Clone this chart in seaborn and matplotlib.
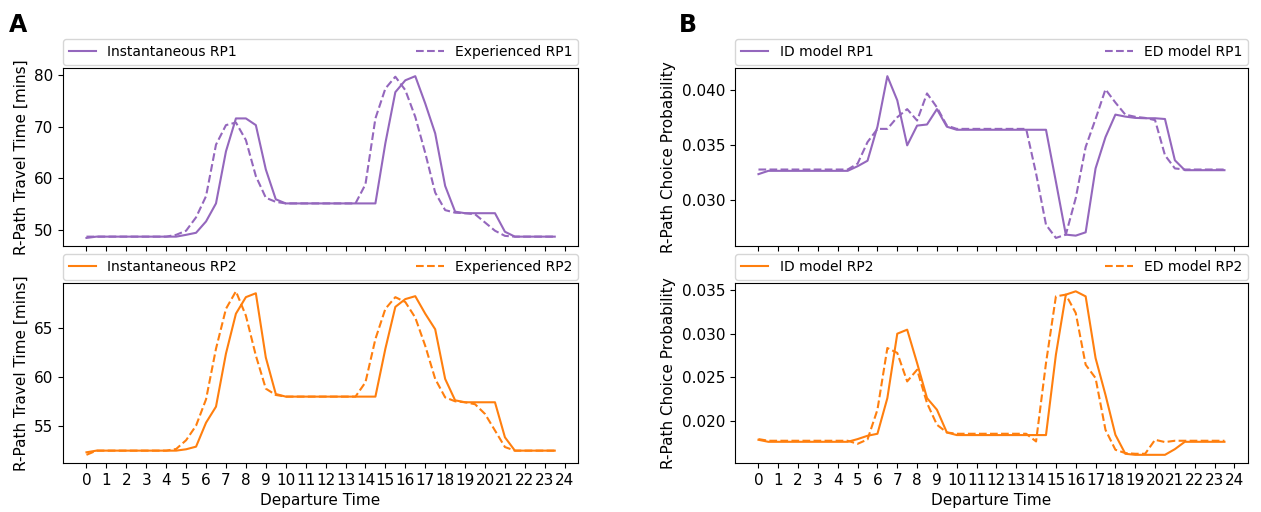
import numpy as np
import pandas as pd
import matplotlib
matplotlib.use("Agg")
import matplotlib.pyplot as plt
import seaborn as sns

# Departure times (half-hour steps)
departure_time = [i * 0.5 for i in range(48)]
hour_ticks = list(range(25))

# Panel A: R-Path travel time [mins]
inst_rp1 = [48.4, 48.65, 48.65, 48.65, 48.65, 48.65, 48.65, 48.65, 48.65, 48.65,
            49.0, 49.4, 51.6, 55.1, 65.2, 71.6, 71.6, 70.3, 61.7, 55.9,
            55.1, 55.1, 55.1, 55.1, 55.1, 55.1, 55.1, 55.1, 55.1, 55.1,
            66.8, 76.7, 79.0, 79.8, 74.5, 68.7, 58.5, 53.5, 53.2, 53.2,
            53.2, 53.2, 49.6, 48.65, 48.65, 48.65, 48.65, 48.65]
exp_rp1 = [48.65, 48.65, 48.65, 48.65, 48.65, 48.65, 48.65, 48.65, 48.65, 49.0,
           49.8, 52.4, 56.5, 66.5, 70.3, 70.8, 67.4, 60.4, 56.2, 55.4,
           55.1, 55.1, 55.1, 55.1, 55.1, 55.1, 55.1, 55.1, 58.8, 71.6,
           77.4, 79.7, 77.1, 71.9, 64.9, 57.2, 53.8, 53.3, 53.2, 53.0,
           51.4, 49.8, 48.8, 48.65, 48.65, 48.65, 48.65, 48.65]
inst_rp2 = [52.26, 52.43, 52.43, 52.43, 52.43, 52.43, 52.43, 52.43, 52.43, 52.43,
            52.57, 52.84, 55.3, 56.95, 62.4, 66.5, 68.2, 68.6, 62.0, 58.25,
            57.98, 57.98, 57.98, 57.98, 57.98, 57.98, 57.98, 57.98, 57.98, 57.98,
            62.9, 67.2, 68.0, 68.3, 66.5, 64.9, 59.8, 57.6, 57.4, 57.4,
            57.4, 57.4, 53.8, 52.43, 52.43, 52.43, 52.43, 52.43]
exp_rp2 = [52.0, 52.43, 52.43, 52.43, 52.43, 52.43, 52.43, 52.43, 52.43, 52.6,
           53.5, 55.0, 57.7, 62.9, 67.0, 68.8, 66.3, 62.2, 58.8, 58.15,
           57.98, 57.98, 57.98, 57.98, 57.98, 57.98, 57.98, 57.98, 59.45, 63.9,
           67.0, 68.2, 67.7, 66.1, 63.2, 59.8, 57.9, 57.5, 57.4, 57.2,
           56.2, 54.5, 52.8, 52.43, 52.43, 52.43, 52.43, 52.43]

# Panel B: R-Path choice probability
id_rp1 = [0.03238, 0.03268, 0.03268, 0.03268, 0.03268, 0.03268, 0.03268, 0.03268, 0.03268, 0.03268,
          0.0331, 0.0336, 0.0367, 0.0413, 0.0391, 0.0350, 0.0368, 0.0369, 0.0383, 0.0367,
          0.03642, 0.03642, 0.03642, 0.03642, 0.03642, 0.03642, 0.03642, 0.03642, 0.03642, 0.03642,
          0.03169, 0.02687, 0.02678, 0.02708, 0.0329, 0.03575, 0.0378, 0.03762, 0.0375, 0.03747,
          0.03747, 0.0374, 0.03364, 0.03274, 0.03274, 0.03274, 0.03274, 0.03274]
ed_rp1 = [0.0328, 0.0328, 0.0328, 0.0328, 0.0328, 0.0328, 0.0328, 0.0328, 0.0328, 0.0328,
          0.03334, 0.0353, 0.0365, 0.0365, 0.03756, 0.0383, 0.03726, 0.03973, 0.03846, 0.0368,
          0.0365, 0.0365, 0.0365, 0.0365, 0.0365, 0.0365, 0.0365, 0.0365, 0.03244, 0.02777,
          0.02657, 0.02687, 0.0302, 0.03485, 0.0374, 0.0401, 0.0389, 0.0378, 0.0376, 0.0375,
          0.0373, 0.0341, 0.0329, 0.0328, 0.0328, 0.0328, 0.0328, 0.0328]
id_rp2 = [0.01786, 0.01763, 0.01763, 0.01763, 0.01763, 0.01763, 0.01763, 0.01763, 0.01763, 0.01763,
          0.01794, 0.01832, 0.01855, 0.02263, 0.0300, 0.03046, 0.02664, 0.02263, 0.0213, 0.0187,
          0.0184, 0.0184, 0.0184, 0.0184, 0.0184, 0.0184, 0.0184, 0.0184, 0.0184, 0.0184,
          0.0276, 0.03447, 0.03485, 0.03427, 0.02721, 0.0230, 0.01843, 0.01626, 0.01614, 0.01614,
          0.01614, 0.01614, 0.01679, 0.01763, 0.01763, 0.01763, 0.01763, 0.01763]
ed_rp2 = [0.01794, 0.01775, 0.01775, 0.01775, 0.01775, 0.01775, 0.01775, 0.01775, 0.01775, 0.01775,
          0.0174, 0.0179, 0.0213, 0.02836, 0.0278, 0.02454, 0.02588, 0.02206, 0.01958, 0.0187,
          0.01855, 0.01855, 0.01855, 0.01855, 0.01855, 0.01855, 0.01855, 0.01855, 0.01767, 0.02664,
          0.03427, 0.03447, 0.03237, 0.02645, 0.02492, 0.019, 0.01672, 0.01634, 0.01626, 0.01626,
          0.01786, 0.0176, 0.01775, 0.01775, 0.01775, 0.01775, 0.01775, 0.01775]

PURPLE = "#9467bd"
ORANGE = "#ff7f0e"

plt.rcParams["font.family"] = ["DejaVu Sans"]
plt.rcParams["font.size"] = 11
plt.rcParams["xtick.labelsize"] = 11
plt.rcParams["ytick.labelsize"] = 11
plt.rcParams["axes.labelsize"] = 11
plt.rcParams["legend.fontsize"] = 10

fig = plt.figure(figsize=(12.61, 5.12), dpi=100)
L1, R1 = 0.050, 0.4585
L2, R2 = 0.583, 0.9895
ax_a1 = fig.add_axes([L1, 0.5195, R1 - L1, 0.867 - 0.5195])
ax_a2 = fig.add_axes([L1, 0.0957, R1 - L1, 0.447 - 0.0957], sharex=ax_a1)
ax_b1 = fig.add_axes([L2, 0.5195, R2 - L2, 0.867 - 0.5195])
ax_b2 = fig.add_axes([L2, 0.0957, R2 - L2, 0.447 - 0.0957], sharex=ax_b1)

def draw(ax, solid, dashed, color, lab_s, lab_d, ylabel, show_x):
    df = pd.DataFrame({"t": departure_time, "s": solid, "d": dashed})
    sns.lineplot(data=df, x="t", y="s", ax=ax, color=color, linestyle="-",
                 label=lab_s, linewidth=1.5)
    sns.lineplot(data=df, x="t", y="d", ax=ax, color=color, linestyle="--",
                 label=lab_d, linewidth=1.5)
    ax.legend(bbox_to_anchor=(0.0, 1.02, 1.0, 0.102), loc="lower left",
              ncol=2, mode="expand", borderaxespad=0.0)
    ax.set_ylabel(ylabel)
    ax.set_xticks(hour_ticks)
    if show_x:
        ax.set_xlabel("Departure Time")
    else:
        ax.set_xlabel("")
        ax.tick_params(labelbottom=False)

draw(ax_a1, inst_rp1, exp_rp1, PURPLE, "Instantaneous RP1", "Experienced RP1",
     "R-Path Travel Time [mins]", False)
draw(ax_a2, inst_rp2, exp_rp2, ORANGE, "Instantaneous RP2", "Experienced RP2",
     "R-Path Travel Time [mins]", True)
draw(ax_b1, id_rp1, ed_rp1, PURPLE, "ID model RP1", "ED model RP1",
     "R-Path Choice Probability", False)
draw(ax_b2, id_rp2, ed_rp2, ORANGE, "ID model RP2", "ED model RP2",
     "R-Path Choice Probability", True)

ax_a1.set_yticks([50, 60, 70, 80])
ax_a2.set_yticks([55, 60, 65])
ax_b1.set_yticks([0.030, 0.035, 0.040])
ax_b2.set_yticks([0.020, 0.025, 0.030, 0.035])

fig.text(0.007, 0.975, "A", fontsize=17, fontweight="bold", va="top", ha="left")
fig.text(0.538, 0.975, "B", fontsize=17, fontweight="bold", va="top", ha="left")

fig.savefig("out.png", dpi=100)
